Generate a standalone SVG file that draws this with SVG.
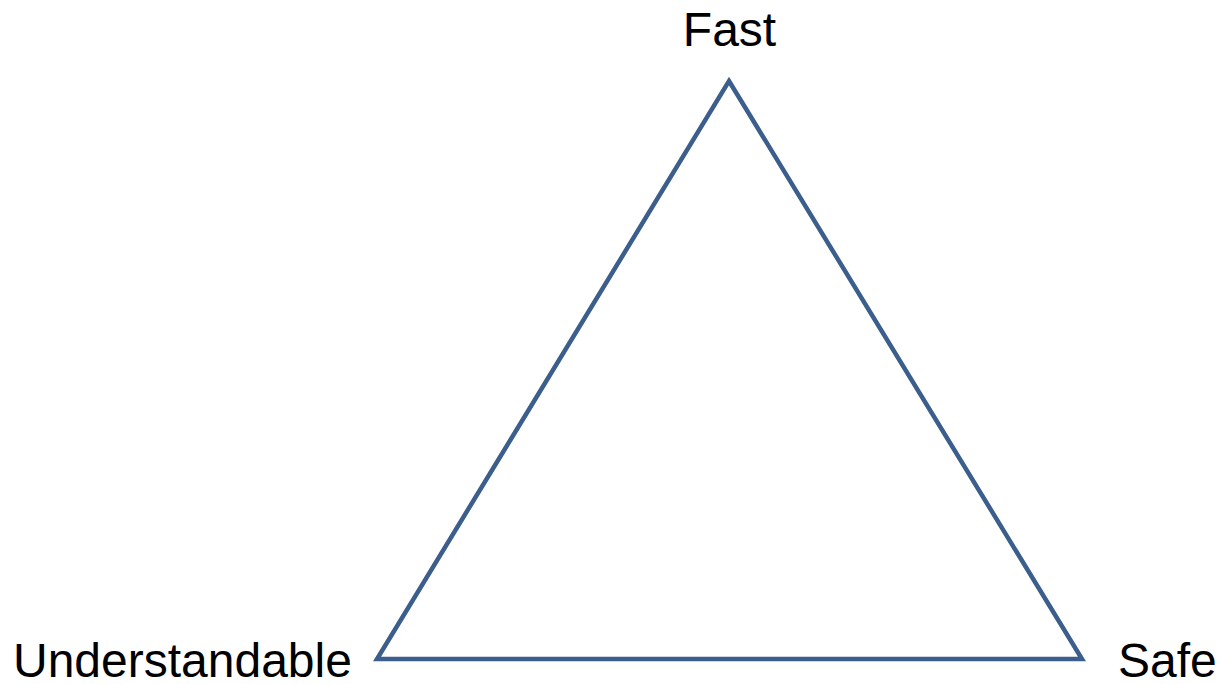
<svg xmlns="http://www.w3.org/2000/svg" width="1224" height="684" viewBox="0 0 1224 684">
<style>
.lbl{font-family:"Liberation Sans",Arial,sans-serif;font-size:48px;fill:#000}
.edge{fill:none;stroke:#3B5E8C;stroke-width:4.5;stroke-linejoin:miter}
</style>
<rect width="1224" height="684" fill="#fff"/>
<g id="connectors">
<polygon class="edge" points="729,81 1082,659 377,659"/>
</g>
<g id="node-fast"><text class="lbl" x="729.5" y="46" text-anchor="middle">Fast</text></g>
<g id="node-understandable"><text class="lbl" x="13" y="677">Understandable</text></g>
<g id="node-safe"><text class="lbl" x="1118" y="677">Safe</text></g>
</svg>
